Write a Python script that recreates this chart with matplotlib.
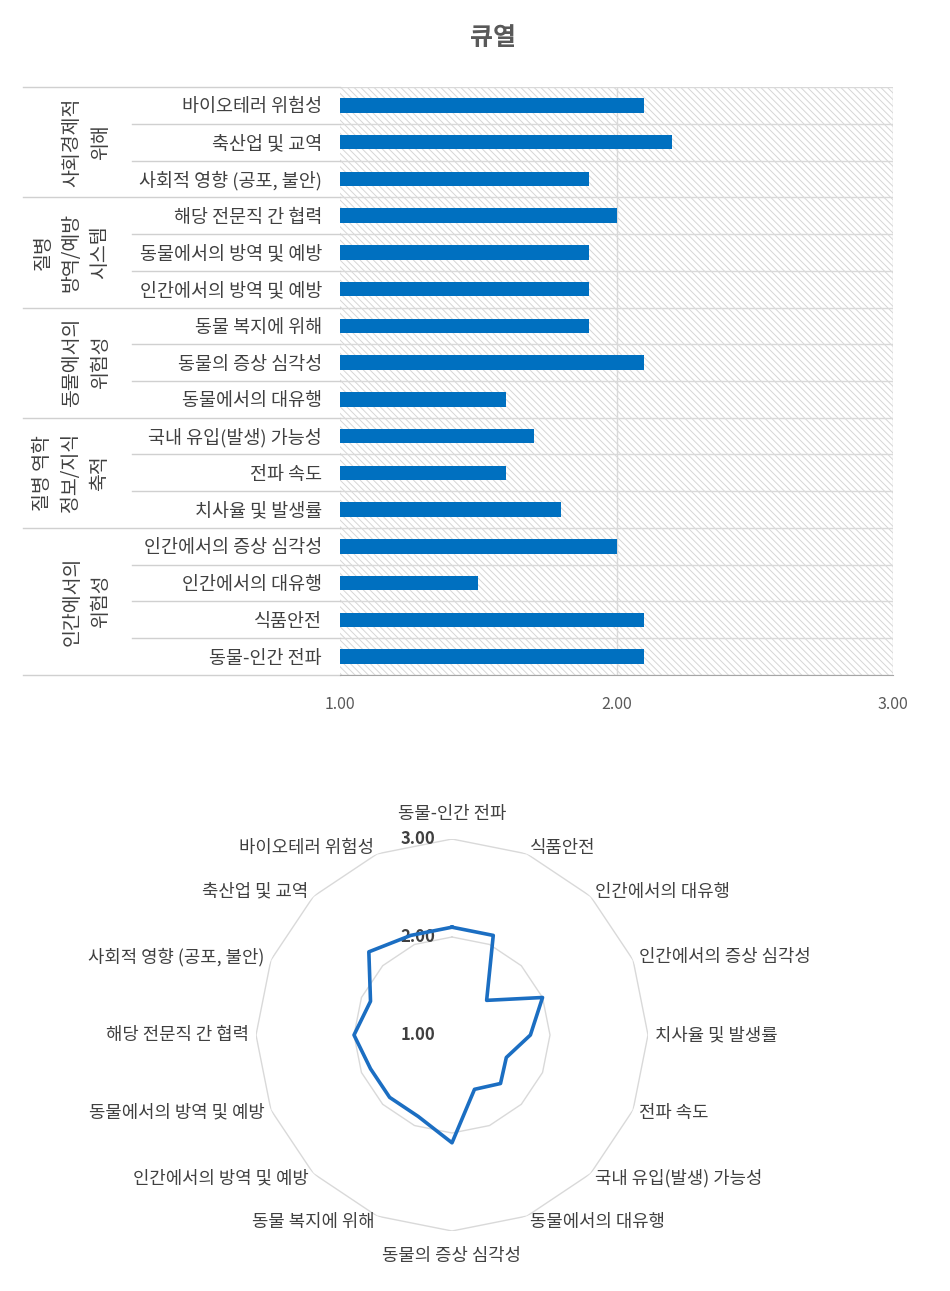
import numpy as np
import matplotlib
matplotlib.use('Agg')
import matplotlib.pyplot as plt
import matplotlib.transforms as mtransforms
from matplotlib.patches import Rectangle

plt.rcParams['font.family'] = ['Noto Sans CJK KR', 'DejaVu Sans']
plt.rcParams['hatch.linewidth'] = 0.7

title = '큐열'
groups = ['사회경제적\n위해', '질병\n방역/예방\n시스템', '동물에서의\n위험성',
          '질병 역학\n정보/지식\n축적', '인간에서의\n위험성']
group_sizes = [3, 3, 3, 3, 4]
items = ['바이오테러 위험성', '축산업 및 교역', '사회적 영향 (공포, 불안)',
         '해당 전문직 간 협력', '동물에서의 방역 및 예방', '인간에서의 방역 및 예방',
         '동물 복지에 위해', '동물의 증상 심각성', '동물에서의 대유행',
         '국내 유입(발생) 가능성', '전파 속도', '치사율 및 발생률',
         '인간에서의 증상 심각성', '인간에서의 대유행', '식품안전', '동물-인간 전파']
scores = [2.1, 2.2, 1.9, 2.0, 1.9, 1.9, 1.9, 2.1, 1.6, 1.7, 1.6, 1.8, 2.0, 1.5, 2.1, 2.1]
x_ticks = [1.0, 2.0, 3.0]
radar_rings = [1.0, 2.0, 3.0]

W, H = 950, 1291
fig = plt.figure(figsize=(W / 100, H / 100), dpi=100)

def fx(px):
    return px / W

def fy(py):
    return 1 - py / H

# ---- bar chart ----
left, right, top, bottom = 340, 893, 87, 675
ax = fig.add_axes([fx(left), fy(bottom), (right - left) / W, (bottom - top) / H])
n = len(items)
y = np.arange(n)
ax.barh(y, scores, height=0.4, color='#0070C0', zorder=3)
ax.set_xlim(1, 3)
ax.set_ylim(n - 0.5, -0.5)

# hatched plot area
ax.add_patch(Rectangle((0, 0), 1, 1, transform=ax.transAxes, facecolor='white',
                       edgecolor='#D6D6D6', hatch='\\\\\\\\\\', linewidth=0, zorder=0))
for b in np.arange(-0.5, n, 1):
    ax.axhline(b, color='#D9D9D9', lw=1, zorder=1)
for xv in x_ticks[1:]:
    ax.axvline(xv, color='#D9D9D9', lw=1, zorder=1)

for s in ['top', 'right', 'left']:
    ax.spines[s].set_visible(False)
ax.spines['bottom'].set_color('#A6A6A6')
ax.spines['bottom'].set_zorder(4)

ax.set_yticks(y, items)
ax.tick_params(axis='y', length=0, pad=13, labelsize=13.3, labelcolor='#404040')
ax.set_xticks(x_ticks, [f'{v:.2f}' for v in x_ticks])
ax.tick_params(axis='x', length=0, pad=15, labelsize=11.5, labelcolor='#595959')

# left table lines and group labels
trans = mtransforms.blended_transform_factory(ax.transAxes, ax.transData)
def ax_x(px):
    return (px - left) / (right - left)

starts = np.cumsum([0] + group_sizes)
for k in range(n + 1):
    x0 = ax_x(23) if k in starts else ax_x(132)
    ax.plot([x0, 0], [k - 0.5, k - 0.5], transform=trans, clip_on=False,
            color='#D0D0D0', lw=1)

for g, lab in enumerate(groups):
    mid = starts[g] + group_sizes[g] / 2 - 0.5
    nlines = lab.count('\n') + 1
    xc = ax_x(86) if nlines == 2 else ax_x(71)
    ax.text(xc, mid, lab, transform=trans, rotation=90, ha='center', va='center',
            multialignment='center', linespacing=1.45, fontsize=14, color='#404040')

fig.text(fx(493), fy(38), title, ha='center', va='center', fontsize=18,
         fontweight='bold', color='#595959')

# ---- radar chart ----
cx, cy, R = 452, 1035, 196
rax = fig.add_axes([fx(cx - R), fy(cy + R), 2 * R / W, 2 * R / H], projection='polar')
rax.set_theta_offset(np.pi / 2)
rax.set_theta_direction(-1)
rax.set_ylim(1, 3)
rax.set_axis_off()

r_labels = items[::-1]
r_vals = scores[::-1]
theta = np.arange(n) * 2 * np.pi / n
th_c = np.append(theta, theta[0])

for r in radar_rings[1:]:
    rax.plot(th_c, [r] * (n + 1), color='#D9D9D9', lw=1, zorder=1)

rax.plot(th_c, np.append(r_vals, r_vals[0]), color='#1B6EC2', lw=2.6, zorder=3,
         clip_on=False)

off = mtransforms.offset_copy(rax.transData, fig=fig, x=-34, y=0, units='dots')
for r in radar_rings:
    rax.text(0, r, f'{r:.2f}', transform=off, ha='center', va='center',
             fontsize=12, fontweight='bold', color='#404040', zorder=2)

for a, lab in zip(theta, r_labels):
    s, c = np.sin(a), np.cos(a)
    if abs(s) < 1e-6:
        rax.text(a, 3.25, lab, ha='center', va='center', fontsize=12.8, color='#404040')
    else:
        rax.text(a, 3.07, lab, ha='left' if s > 0 else 'right', va='center',
                 fontsize=12.8, color='#404040')

fig.savefig('out.png', dpi=100, facecolor='white')
